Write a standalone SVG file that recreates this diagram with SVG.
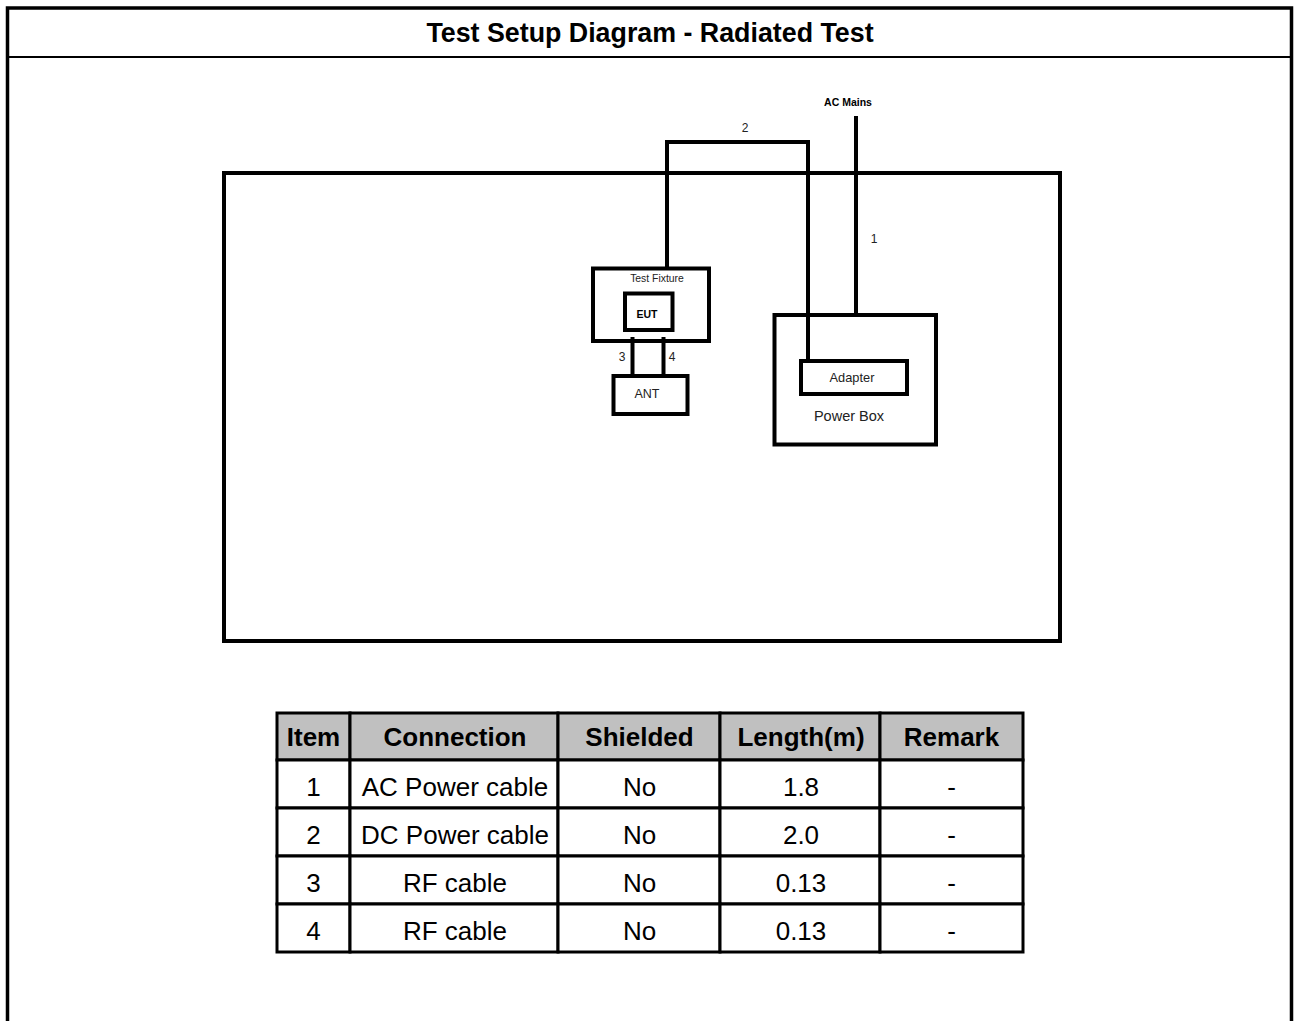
<svg xmlns="http://www.w3.org/2000/svg" width="1295" height="1021" viewBox="0 0 1295 1021">
<style>
.ln{fill:none;stroke:#000;stroke-width:4}
.bx{fill:none;stroke:#000;stroke-width:4}
.t{font-family:"Liberation Sans",Arial,sans-serif;fill:#222}
.tb{font-family:"Liberation Sans",Arial,sans-serif;font-weight:bold;fill:#000}
.cell{fill:#fff;stroke:#000;stroke-width:3}
.hd{fill:#c0c0c0;stroke:#000;stroke-width:3}
</style>
<rect width="1295" height="1021" fill="#fff"/>
<g id="frame">
<path d="M7.5,1021 V8 H1291.5 V1021" fill="none" stroke="#000" stroke-width="3.5"/>
<line x1="7.5" y1="57" x2="1291.5" y2="57" stroke="#000" stroke-width="2"/>
<text class="tb" x="650" y="42" font-size="26.8" text-anchor="middle">Test Setup Diagram - Radiated Test</text>
</g>
<g id="chamber"><rect class="bx" x="224" y="173" width="836" height="468"/></g>
<g id="connectors">
<polyline class="ln" points="667,268 667,142 808,142 808,361"/>
<line class="ln" x1="856" y1="116" x2="856" y2="315"/>
<line class="ln" x1="632.5" y1="337" x2="632.5" y2="376"/>
<line class="ln" x1="663.5" y1="337" x2="663.5" y2="376"/>
<text class="t" x="745" y="132" font-size="12" text-anchor="middle">2</text>
<text class="t" x="874" y="243" font-size="12" text-anchor="middle">1</text>
<text class="t" x="622" y="361" font-size="12" text-anchor="middle">3</text>
<text class="t" x="672" y="361" font-size="12" text-anchor="middle">4</text>
<text class="tb" x="848" y="106" font-size="10.5" text-anchor="middle">AC Mains</text>
</g>
<g id="test-fixture">
<rect class="bx" x="593" y="268.5" width="116" height="72.5"/>
<text class="t" x="657" y="282" font-size="10.4" text-anchor="middle">Test Fixture</text>
</g>
<g id="eut">
<rect class="bx" x="625" y="293.5" width="47.5" height="36.5"/>
<text class="tb" x="647" y="318" font-size="10.5" text-anchor="middle">EUT</text>
</g>
<g id="ant">
<rect class="bx" x="613.5" y="376" width="74" height="38"/>
<text class="t" x="647" y="398" font-size="12.5" text-anchor="middle">ANT</text>
</g>
<g id="power-box">
<rect class="bx" x="774.5" y="315" width="161.5" height="129.5"/>
<text class="t" x="849" y="421" font-size="14.5" text-anchor="middle">Power Box</text>
</g>
<g id="adapter">
<rect class="bx" x="801" y="361" width="106" height="33"/>
<text class="t" x="852" y="382" font-size="12.8" text-anchor="middle">Adapter</text>
</g>
<g id="table">
<rect class="hd" x="277" y="713" width="73" height="47"/>
<rect class="hd" x="350" y="713" width="208" height="47"/>
<rect class="hd" x="558" y="713" width="162" height="47"/>
<rect class="hd" x="720" y="713" width="160" height="47"/>
<rect class="hd" x="880" y="713" width="143" height="47"/>
<g class="tb" font-size="26" text-anchor="middle">
<text x="313.5" y="746">Item</text>
<text x="455" y="746">Connection</text>
<text x="639.5" y="746">Shielded</text>
<text x="801" y="746">Length(m)</text>
<text x="951.5" y="746">Remark</text>
</g>
<g>
<rect class="cell" x="277" y="760" width="73" height="48"/><rect class="cell" x="350" y="760" width="208" height="48"/><rect class="cell" x="558" y="760" width="162" height="48"/><rect class="cell" x="720" y="760" width="160" height="48"/><rect class="cell" x="880" y="760" width="143" height="48"/>
<rect class="cell" x="277" y="808" width="73" height="48"/><rect class="cell" x="350" y="808" width="208" height="48"/><rect class="cell" x="558" y="808" width="162" height="48"/><rect class="cell" x="720" y="808" width="160" height="48"/><rect class="cell" x="880" y="808" width="143" height="48"/>
<rect class="cell" x="277" y="856" width="73" height="48"/><rect class="cell" x="350" y="856" width="208" height="48"/><rect class="cell" x="558" y="856" width="162" height="48"/><rect class="cell" x="720" y="856" width="160" height="48"/><rect class="cell" x="880" y="856" width="143" height="48"/>
<rect class="cell" x="277" y="904" width="73" height="48"/><rect class="cell" x="350" y="904" width="208" height="48"/><rect class="cell" x="558" y="904" width="162" height="48"/><rect class="cell" x="720" y="904" width="160" height="48"/><rect class="cell" x="880" y="904" width="143" height="48"/>
</g>
<g class="t" font-size="26" text-anchor="middle" style="fill:#000">
<text x="313.5" y="796">1</text><text x="455" y="796">AC Power cable</text><text x="639.5" y="796">No</text><text x="801" y="796">1.8</text><text x="951.5" y="796">-</text>
<text x="313.5" y="844">2</text><text x="455" y="844">DC Power cable</text><text x="639.5" y="844">No</text><text x="801" y="844">2.0</text><text x="951.5" y="844">-</text>
<text x="313.5" y="892">3</text><text x="455" y="892">RF cable</text><text x="639.5" y="892">No</text><text x="801" y="892">0.13</text><text x="951.5" y="892">-</text>
<text x="313.5" y="940">4</text><text x="455" y="940">RF cable</text><text x="639.5" y="940">No</text><text x="801" y="940">0.13</text><text x="951.5" y="940">-</text>
</g>
</g>
</svg>
